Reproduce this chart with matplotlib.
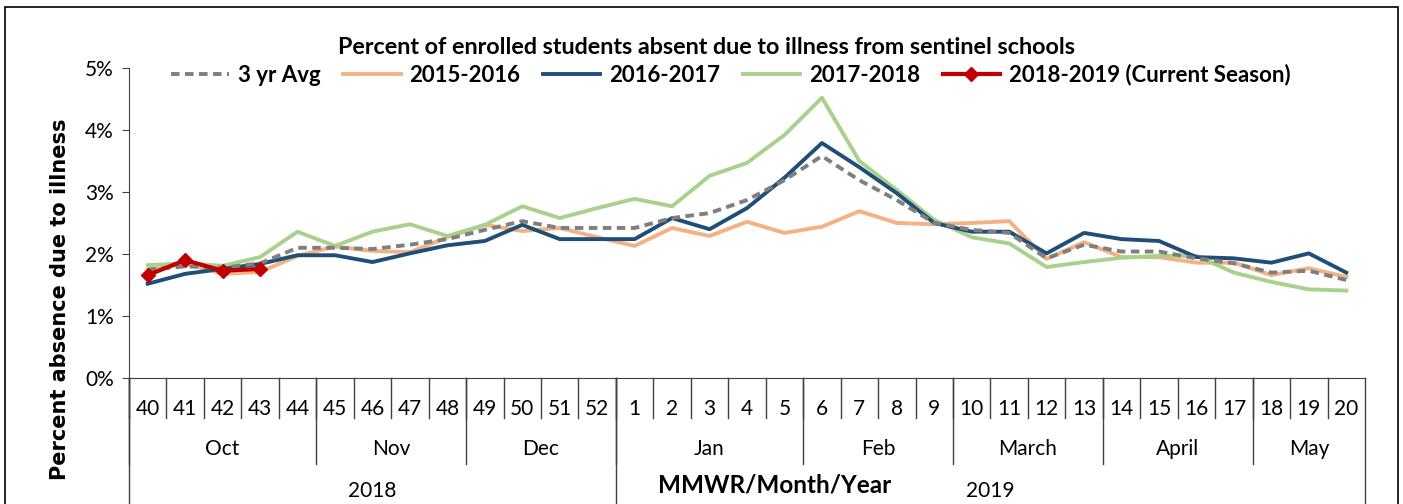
"""Percent of enrolled students absent due to illness, sentinel schools."""

import matplotlib
matplotlib.use("Agg")
import matplotlib.pyplot as plt
import matplotlib.ticker as mticker
import matplotlib.transforms as mtrans
from matplotlib.patches import Rectangle

OUT = "out.png"

WEEKS = [40, 41, 42, 43, 44, 45, 46, 47, 48, 49, 50, 51, 52,
         1, 2, 3, 4, 5, 6, 7, 8, 9, 10, 11, 12, 13, 14, 15, 16, 17, 18, 19, 20]
MONTHS = ["Oct", "Nov", "Dec", "Jan", "Feb", "March", "April", "May"]
MONTH_LEN = [5, 4, 4, 5, 4, 4, 4, 3]
YEARS = ["2018", "2019"]
YEAR_LEN = [13, 20]

AVG3 = [1.75, 1.80, 1.78, 1.85, 2.10, 2.10, 2.08, 2.15, 2.24, 2.39, 2.53, 2.42, 2.42,
        2.42, 2.58, 2.66, 2.87, 3.19, 3.58, 3.19, 2.87, 2.50, 2.39, 2.34, 1.93, 2.15,
        2.04, 2.04, 1.93, 1.85, 1.70, 1.73, 1.58]
S1516 = [1.74, 1.85, 1.68, 1.71, 1.97, 2.12, 2.05, 2.03, 2.27, 2.47, 2.37, 2.42, 2.27,
         2.13, 2.42, 2.29, 2.52, 2.34, 2.44, 2.69, 2.50, 2.48, 2.50, 2.53, 1.92, 2.19,
         1.95, 1.95, 1.86, 1.86, 1.66, 1.77, 1.63]
S1617 = [1.52, 1.68, 1.76, 1.84, 1.98, 1.98, 1.87, 2.01, 2.14, 2.21, 2.47, 2.24, 2.24,
         2.24, 2.58, 2.40, 2.74, 3.23, 3.79, 3.40, 2.98, 2.50, 2.36, 2.36, 2.01, 2.34,
         2.24, 2.21, 1.95, 1.93, 1.86, 2.01, 1.70]
S1718 = [1.82, 1.85, 1.81, 1.95, 2.36, 2.13, 2.36, 2.48, 2.29, 2.47, 2.77, 2.58, 2.74,
         2.89, 2.77, 3.26, 3.47, 3.92, 4.52, 3.50, 3.03, 2.55, 2.27, 2.17, 1.79, 1.87,
         1.94, 1.97, 1.97, 1.70, 1.55, 1.43, 1.41]
S1819 = [1.66, 1.90, 1.73, 1.76]

C_AVG = "#7f7f7f"
C_1516 = "#f4b183"
C_1617 = "#1f4e79"
C_1718 = "#a9d18e"
C_1819 = "#c00000"
C_LINE = "#404040"

plt.rcParams["font.family"] = ["Lato", "DejaVu Sans"]


def main():
    fig = plt.figure(figsize=(14.03, 5.04), dpi=100)
    ax = fig.add_axes([129 / 1403, 1 - 378 / 504, 1236 / 1403, 310 / 504])

    xs = list(range(len(WEEKS)))
    ax.plot(xs, S1516, color=C_1516, lw=2.8, label="2015-2016", zorder=2)
    ax.plot(xs, S1617, color=C_1617, lw=2.8, label="2016-2017", zorder=3)
    ax.plot(xs, S1718, color=C_1718, lw=2.8, label="2017-2018", zorder=2)
    ax.plot(xs, AVG3, color=C_AVG, lw=2.8, ls=(0, (2.2, 1.4)), label="3 yr Avg", zorder=4)
    ax.plot(xs[:len(S1819)], S1819, color=C_1819, lw=3, marker="D", ms=7,
            label="2018-2019 (Current Season)", zorder=5)

    ax.set_xlim(-0.5, len(WEEKS) - 0.5)
    ax.set_ylim(0, 5)
    ax.set_yticks([0, 1, 2, 3, 4, 5])
    ax.yaxis.set_major_formatter(mticker.FuncFormatter(lambda v, _: f"{v:.0f}%"))
    ax.tick_params(axis="y", labelsize=15, length=5, color=C_LINE, pad=6)
    ax.set_xticks([])
    for s in ("top", "right"):
        ax.spines[s].set_visible(False)
    ax.spines["left"].set_color(C_LINE)
    ax.spines["bottom"].set_color(C_LINE)

    # hierarchical category axis: weeks / months / years
    tr = mtrans.blended_transform_factory(ax.transData, ax.transAxes)
    y_wk, y_mo, y_bot = -40 / 310, -86 / 310, -126 / 310
    kw = dict(transform=tr, color=C_LINE, lw=1, clip_on=False)
    for i, w in enumerate(WEEKS):
        ax.text(i, -31 / 310, str(w), transform=tr, ha="center", va="center", fontsize=15)
        ax.plot([i - 0.5, i - 0.5], [0, y_wk], **kw)
    start = 0
    for m, n in zip(MONTHS, MONTH_LEN):
        ax.text(start + n / 2 - 0.5, -71 / 310, m, transform=tr, ha="center",
                va="center", fontsize=15)
        ax.plot([start - 0.5, start - 0.5], [0, y_mo], **kw)
        start += n
    start = 0
    for yr, n in zip(YEARS, YEAR_LEN):
        ax.text(start + n / 2 - 0.5, -113 / 310, yr, transform=tr, ha="center",
                va="center", fontsize=15)
        ax.plot([start - 0.5, start - 0.5], [0, y_bot], **kw)
        start += n
    ax.plot([start - 0.5, start - 0.5], [0, y_bot], **kw)

    ax.text((775 - 129) / 1236, -107 / 310, "MMWR/Month/Year", transform=ax.transAxes,
            ha="center", va="center", fontsize=17.5, fontweight="bold")
    fig.text(60 / 1403, 1 - 299 / 504, "Percent absence due to illness", rotation=90,
             ha="center", va="center", fontsize=15, fontweight="bold",
             family="DejaVu Sans")

    fig.text(706 / 1403, 1 - 47 / 504,
             "Percent of enrolled students absent due to illness from sentinel schools",
             ha="center", va="center", fontsize=16.8, fontweight="bold")

    handles, labels = ax.get_legend_handles_labels()
    order = [3, 0, 1, 2, 4]
    ax.legend([handles[i] for i in order], [labels[i] for i in order],
              loc="center", bbox_to_anchor=((731 - 129) / 1236, (378 - 75) / 310),
              ncol=5, frameon=False, handlelength=2.6, columnspacing=1.0,
              handletextpad=0.4, prop={"size": 16, "weight": "bold"})

    fig.add_artist(Rectangle((5 / 1403, -0.01), 1393 / 1403, 1 - 7 / 504 + 0.01,
                             transform=fig.transFigure, fill=False,
                             edgecolor="black", lw=1.2))

    fig.savefig(OUT, dpi=100)


if __name__ == "__main__":
    main()
